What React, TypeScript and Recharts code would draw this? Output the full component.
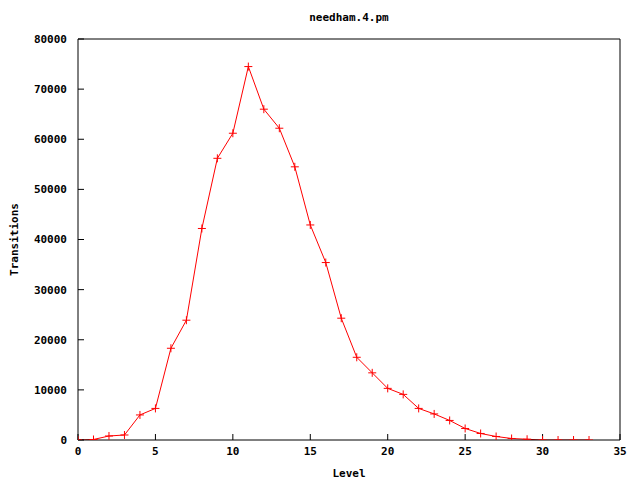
import React from 'react';
import { LineChart, Line, XAxis, YAxis, Label } from 'recharts';

const levels = [
  0, 1, 2, 3, 4, 5, 6, 7, 8, 9, 10, 11, 12, 13, 14, 15, 16,
  17, 18, 19, 20, 21, 22, 23, 24, 25, 26, 27, 28, 29, 30, 31, 32, 33,
];
const transitions = [
  0, 100, 800, 1000, 5000, 6300, 18300, 23900, 42200, 56200, 61200, 74500, 66000, 62200, 54500, 42900, 35400,
  24300, 16500, 13400, 10300, 9100, 6300, 5200, 3900, 2300, 1300, 700, 300, 150, 0, 0, 0, 0,
];
const xTicks = [0, 5, 10, 15, 20, 25, 30, 35];
const yTicks = [0, 10000, 20000, 30000, 40000, 50000, 60000, 70000, 80000];

const data = levels.map((level, i) => ({ level, transitions: transitions[i] }));

const FONT = '"DejaVu Sans Mono", monospace';
const RED = '#ff0000';
const tickStyle = { fontFamily: FONT, fontSize: 11, fontWeight: 'bold', fill: '#000' };

const PlusDot = (props: any) => {
  const { cx, cy, index } = props;
  if (cx == null || cy == null) return null;
  return (
    <path
      key={`p${index}`}
      d={`M${cx - 4},${cy}H${cx + 4}M${cx},${cy - 4}V${cy + 4}`}
      stroke={RED}
      strokeWidth={1}
      fill="none"
    />
  );
};

export default function App() {
  return (
    <div style={{ position: 'absolute', left: 0, top: 0, width: 640, height: 480, background: '#fff' }}>
      <div
        style={{
          position: 'absolute', left: 78, width: 542, top: 11, textAlign: 'center',
          fontFamily: FONT, fontSize: 11, fontWeight: 'bold', lineHeight: '14px',
        }}
      >
        needham.4.pm
      </div>
      <LineChart width={640} height={480} data={data} margin={{ top: 38, right: 19, bottom: 0, left: 0 }}>
        <XAxis
          dataKey="level" type="number" domain={[0, 35]} ticks={xTicks} height={40}
          tickSize={-6} tickMargin={13} tick={tickStyle}
          stroke="#000" tickLine={{ stroke: '#000' }} axisLine={{ stroke: '#000' }}
          allowDataOverflow
        >
          <Label value="Level" position="insideBottom" offset={3}
            style={{ fontFamily: FONT, fontSize: 11, fontWeight: 'bold', fill: '#000' }} />
        </XAxis>
        <XAxis
          xAxisId="top" orientation="top" type="number" domain={[0, 35]} ticks={xTicks} height={1}
          tickSize={-6} tick={false} stroke="#000" allowDataOverflow
        />
        <YAxis
          type="number" domain={[0, 80000]} ticks={yTicks} width={78}
          tickSize={-6} tickMargin={17} tick={tickStyle} stroke="#000" allowDataOverflow
        >
          <Label value="Transitions" angle={-90} position="insideLeft" offset={14}
            style={{ fontFamily: FONT, fontSize: 11, fontWeight: 'bold', fill: '#000', textAnchor: 'middle' }} />
        </YAxis>
        <YAxis
          yAxisId="right" orientation="right" type="number" domain={[0, 80000]} ticks={yTicks} width={1}
          tickSize={-6} tick={false} stroke="#000" allowDataOverflow
        />
        <Line
          type="linear" dataKey="transitions" stroke={RED} strokeWidth={1}
          dot={PlusDot} activeDot={false} isAnimationActive={false}
        />
      </LineChart>
    </div>
  );
}
